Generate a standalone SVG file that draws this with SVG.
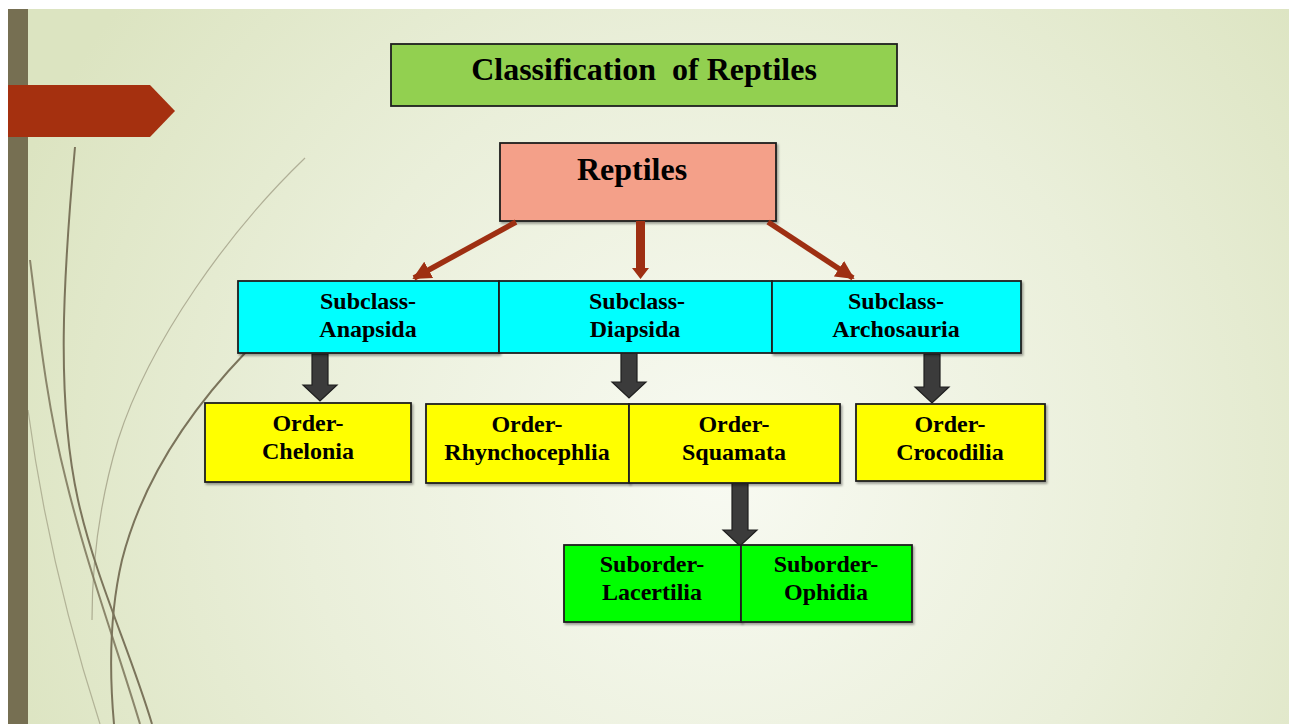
<svg xmlns="http://www.w3.org/2000/svg" width="1296" height="724" viewBox="0 0 1296 724">
<defs>
<radialGradient id="bg" cx="720" cy="470" r="760" gradientUnits="userSpaceOnUse">
<stop offset="0" stop-color="#f8faf2"/>
<stop offset="0.55" stop-color="#eaefda"/>
<stop offset="1" stop-color="#dce4c1"/>
</radialGradient>
<marker id="redHead" viewBox="0 0 10 10" refX="9" refY="5" markerWidth="3.4" markerHeight="3.4" markerUnits="strokeWidth" orient="auto">
<path d="M0,0 L10,5 L0,10 Z" fill="#9e2f12"/>
</marker>
<filter id="sh" x="-5%" y="-5%" width="115%" height="125%">
<feDropShadow dx="1.5" dy="2" stdDeviation="1.2" flood-color="#000" flood-opacity="0.35"/>
</filter>
</defs>
<style>
.t{font-family:"Liberation Serif","Times New Roman",serif;font-weight:bold;fill:#000;text-anchor:middle}
.big{font-size:32px}
.sm{font-size:24px}
.box{stroke:#1e1e1e;stroke-width:1.8}
.red{stroke:#9e2f12;stroke-width:5.5;fill:none;marker-end:url(#redHead)}
.redfill{fill:#9e2f12}
.blk{fill:#3b3b3b;stroke:#1f1f1f;stroke-width:1.2}
.deco{fill:none;stroke:#7b745b}
</style>
<rect x="0" y="0" width="1296" height="724" fill="#ffffff"/>
<rect x="8" y="9" width="1281" height="715" fill="url(#bg)"/>
<g id="decor">
<path class="deco" stroke-width="2" d="M75,147 C63,280 56,400 78,500 C96,580 130,650 152,724"/>
<path class="deco" stroke-width="2" opacity="0.85" d="M30,260 C40,340 48,410 66,480 C88,570 118,650 140,724"/>
<path class="deco" stroke-width="1.2" opacity="0.45" d="M28,410 C40,500 60,600 100,724"/>
<path class="deco" stroke-width="2" d="M246,352 C200,400 145,470 122,560 C108,620 110,680 114,724"/>
<path class="deco" stroke-width="1.2" opacity="0.5" d="M305,158 C230,230 150,340 118,440 C100,500 92,560 92,620"/>
<rect x="8" y="9" width="20" height="715" fill="#766f52"/>
<polygon points="8,85 150,85 175,111 150,137 8,137" fill="#a5300f"/>
</g>
<g id="title">
<rect class="box" x="391" y="44" width="506" height="62" fill="#92d050"/>
<text class="t big" x="644" y="80" style="white-space:pre">Classification  of Reptiles</text>
</g>
<g id="reptiles">
<rect class="box" x="500" y="143" width="276" height="78" fill="#f4a089" filter="url(#sh)"/>
<text class="t big" x="632" y="180">Reptiles</text>
</g>
<g id="connectors">
<line class="red" x1="516" y1="222" x2="414" y2="278"/>
<polygon class="redfill" points="636,221 645,221 645,268 649,268 640.5,279 632,268 636,268"/>
<line class="red" x1="768" y1="222" x2="853" y2="278"/>
<polygon class="blk" points="312,354 328,354 328,385 337,385 320,401 303,385 312,385"/>
<polygon class="blk" points="621,352 637,352 637,382 646,382 629,398 612,382 621,382"/>
<polygon class="blk" points="924,354 940,354 940,387 949,387 932,403 915,387 924,387"/>
<polygon class="blk" points="732,483 748,483 748,530 757,530 740,546 723,530 732,530"/>
</g>
<g id="subclass-anapsida">
<rect class="box" x="238" y="281" width="261" height="72" fill="#00ffff" filter="url(#sh)"/>
<text class="t sm" x="368" y="309">Subclass-</text>
<text class="t sm" x="368" y="337">Anapsida</text>
</g>
<g id="subclass-diapsida">
<rect class="box" x="499" y="281" width="273" height="72" fill="#00ffff"/>
<text class="t sm" x="637" y="309">Subclass-</text>
<text class="t sm" x="635" y="337">Diapsida</text>
</g>
<g id="subclass-archosauria">
<rect class="box" x="772" y="281" width="249" height="72" fill="#00ffff" filter="url(#sh)"/>
<text class="t sm" x="896" y="309">Subclass-</text>
<text class="t sm" x="896" y="337">Archosauria</text>
</g>
<g id="order-chelonia">
<rect class="box" x="205" y="403" width="206" height="79" fill="#ffff00" filter="url(#sh)"/>
<text class="t sm" x="308" y="431">Order-</text>
<text class="t sm" x="308" y="459">Chelonia</text>
</g>
<g id="order-rhynchocephlia">
<rect class="box" x="426" y="404" width="203" height="79" fill="#ffff00" filter="url(#sh)"/>
<text class="t sm" x="527" y="432">Order-</text>
<text class="t sm" x="527" y="460">Rhynchocephlia</text>
</g>
<g id="order-squamata">
<rect class="box" x="629" y="404" width="211" height="79" fill="#ffff00" filter="url(#sh)"/>
<text class="t sm" x="734" y="432">Order-</text>
<text class="t sm" x="734" y="460">Squamata</text>
</g>
<g id="order-crocodilia">
<rect class="box" x="856" y="404" width="189" height="77" fill="#ffff00" filter="url(#sh)"/>
<text class="t sm" x="950" y="432">Order-</text>
<text class="t sm" x="950" y="460">Crocodilia</text>
</g>
<g id="suborder-lacertilia">
<rect class="box" x="564" y="545" width="177" height="77" fill="#00ff00" filter="url(#sh)"/>
<text class="t sm" x="652" y="572">Suborder-</text>
<text class="t sm" x="652" y="600">Lacertilia</text>
</g>
<g id="suborder-ophidia">
<rect class="box" x="741" y="545" width="171" height="77" fill="#00ff00" filter="url(#sh)"/>
<text class="t sm" x="826" y="572">Suborder-</text>
<text class="t sm" x="826" y="600">Ophidia</text>
</g>
</svg>
